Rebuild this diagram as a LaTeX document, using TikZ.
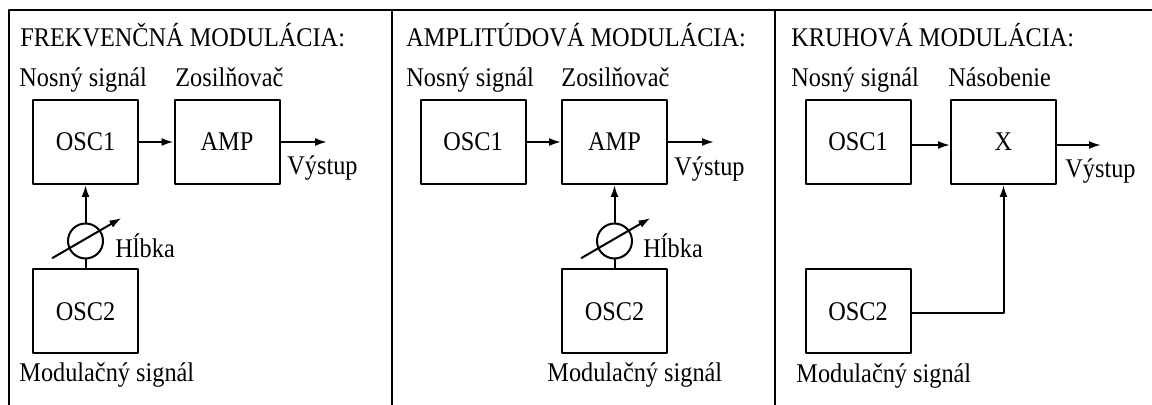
\documentclass[tikz,border=0pt]{standalone}
\usepackage{fontspec}
\setmainfont{Liberation Serif}[FakeStretch=0.9]
\usetikzlibrary{arrows.meta}
\begin{document}
\begin{tikzpicture}[x=0.5pt, y=-0.5pt, font=\fontsize{13.5}{16}\selectfont, line join=round, line cap=round, >={Latex[length=6pt,width=4pt]}]
	\tikzset{
		blok/.style={draw, line width=1pt, minimum width=52.5pt, minimum height=42pt, inner sep=0pt},
		popis/.style={anchor=base west, inner sep=0pt},
		hlbka/.style={draw, line width=1pt, circle, minimum size=17.5pt, inner sep=0pt},
		spoj/.style={line width=1pt}
	}
	\useasboundingbox (0,0) rectangle (1152,405);
	% ramik
	\draw[spoj] (9,405) -- (9,10) -- (1152,10);
	\draw[spoj] (392,10) -- (392,405);
	\draw[spoj] (775,10) -- (775,405);
	% frekvencna modulacia
	\node[popis] (t1) at (20,47) {FREKVENČNÁ MODULÁCIA:};
	\node[popis] (n1) at (19,87) {Nosný signál};
	\node[popis] (z1) at (175,87) {Zosilňovač};
	\node[blok] (osc1a) at (85.5,142) {OSC1};
	\node[blok] (amp1) at (227,142) {AMP};
	\node[blok] (osc2a) at (85.5,311.5) {OSC2};
	\node[hlbka] (h1) at (85.5,241) {};
	\coordinate (v1) at (327,142);
	\node[popis] (vy1) at (287,175) {Výstup};
	\node[popis] (hl1) at (115,258) {Hĺbka};
	\node[popis] (m1) at (19,382) {Modulačný signál};
	\draw[spoj,->] (osc1a) -- (amp1);
	\draw[spoj,->] (amp1) -- (v1);
	\draw[spoj] (osc2a) -- (h1);
	\draw[spoj,->] (h1) -- (osc1a);
	\draw[spoj,->] ([shift={(-33,17)}]h1.center) -- ([shift={(36,-23)}]h1.center);
	% amplitudova modulacia
	\node[popis] (t2) at (406,47) {AMPLITÚDOVÁ MODULÁCIA:};
	\node[popis] (n2) at (406,87) {Nosný signál};
	\node[popis] (z2) at (561,87) {Zosilňovač};
	\node[blok] (osc1b) at (473,142) {OSC1};
	\node[blok] (amp2) at (614.5,142) {AMP};
	\node[blok] (osc2b) at (614.5,311.5) {OSC2};
	\node[hlbka] (h2) at (614.5,241) {};
	\coordinate (v2) at (714,142);
	\node[popis] (vy2) at (674,176) {Výstup};
	\node[popis] (hl2) at (643,258) {Hĺbka};
	\node[popis] (m2) at (547,382) {Modulačný signál};
	\draw[spoj,->] (osc1b) -- (amp2);
	\draw[spoj,->] (amp2) -- (v2);
	\draw[spoj] (osc2b) -- (h2);
	\draw[spoj,->] (h2) -- (amp2);
	\draw[spoj,->] ([shift={(-33,17)}]h2.center) -- ([shift={(36,-23)}]h2.center);
	% kruhova modulacia
	\node[popis] (t3) at (791,47) {KRUHOVÁ MODULÁCIA:};
	\node[popis] (n3) at (791,87) {Nosný signál};
	\node[popis] (z3) at (948,87) {Násobenie};
	\node[blok] (osc1c) at (858,142) {OSC1};
	\node[blok] (nas) at (1003.5,142) {X};
	\node[blok] (osc2c) at (858,311.5) {OSC2};
	\coordinate (v3) at (1101,145);
	\node[popis] (vy3) at (1065,178) {Výstup};
	\node[popis] (m3) at (796,383) {Modulačný signál};
	\draw[spoj,->] (osc1c.east |- 0,145) -- (nas.west |- 0,145);
	\draw[spoj,->] (nas.east |- v3) -- (v3);
	\draw[spoj,->] (osc2c.east |- 0,313) -| (nas.south);
\end{tikzpicture}
\end{document}
